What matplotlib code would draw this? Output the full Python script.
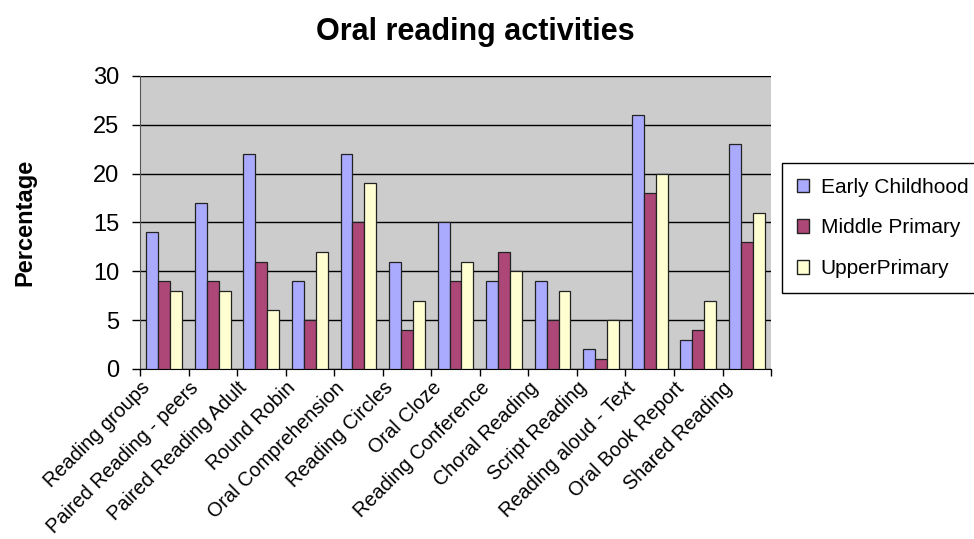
import numpy as np
import matplotlib
matplotlib.use("Agg")
import matplotlib.pyplot as plt
from matplotlib.patches import Patch
from matplotlib.transforms import ScaledTranslation

plt.rcParams['font.family'] = ['Liberation Sans', 'DejaVu Sans']

categories = ["Reading groups", "Paired Reading - peers", "Paired Reading Adult",
              "Round Robin", "Oral Comprehension", "Reading Circles", "Oral Cloze",
              "Reading Conference", "Choral Reading", "Script Reading",
              "Reading aloud - Text", "Oral Book Report", "Shared Reading"]
early_childhood = [14, 17, 22, 9, 22, 11, 15, 9, 9, 2, 26, 3, 23]
middle_primary = [9, 9, 11, 5, 15, 4, 9, 12, 5, 1, 18, 4, 13]
upper_primary = [8, 8, 6, 12, 19, 7, 11, 10, 8, 5, 20, 7, 16]
series_names = ["Early Childhood", "Middle Primary", "UpperPrimary"]
colors = ["#AAAAFF", "#AD4777", "#FFFFD2"]
y_ticks = [0, 5, 10, 15, 20, 25, 30]

fig = plt.figure(figsize=(9.74, 5.39), dpi=100)
ax = fig.add_axes([0.1437, 0.3154, 0.648, 0.5436])
ax.set_facecolor("#CCCCCC")

x = np.arange(len(categories))
w = 0.245
for i, (vals, c) in enumerate(zip([early_childhood, middle_primary, upper_primary], colors)):
    ax.bar(x + (i - 1) * w, vals, width=w, color=c, edgecolor="#222222",
           linewidth=0.9, zorder=3)

ax.set_xlim(-0.5, len(categories) - 0.5)
ax.set_ylim(0, 30)
ax.set_yticks(y_ticks)
ax.yaxis.grid(True, color="black", linewidth=1.0, zorder=1)
ax.set_axisbelow(True)

ax.set_xticks(x)
ax.set_xticklabels(categories, rotation=45, ha="right", rotation_mode="anchor",
                   fontsize=14.3)
ax.tick_params(axis="x", which="major", length=0, pad=6)
ax.set_xticks(np.arange(-0.5, len(categories), 1.0), minor=True)
ax.tick_params(axis="x", which="minor", length=5, width=1, color="black")
ax.tick_params(axis="y", length=6, width=1, labelsize=17, pad=9)

# nudge the slanted category labels to the left
shift = ScaledTranslation(-24 / 100, -1 / 100, fig.dpi_scale_trans)
for lab in ax.get_xticklabels():
    lab.set_transform(lab.get_transform() + shift)

for side in ["top", "right"]:
    ax.spines[side].set_visible(False)
ax.spines["left"].set_color("#555555")
ax.spines["bottom"].set_color("black")

fig.text(0.4875, 0.94, "Oral reading activities", ha="center", va="center",
         fontsize=22, fontweight="bold")
fig.text(0.026, 0.588, "Percentage", ha="center", va="center", rotation=90,
         fontsize=17, fontweight="bold")

handles = [Patch(facecolor=c, edgecolor="#222222", label=n)
           for c, n in zip(colors, series_names)]
leg = fig.legend(handles=handles, loc="upper left", bbox_to_anchor=(0.803, 0.6976),
                 borderaxespad=0, fontsize=15, frameon=True, fancybox=False,
                 framealpha=1, edgecolor="black", handlelength=0.6,
                 handleheight=0.6, handletextpad=0.55, labelspacing=1.05,
                 borderpad=0.7)
leg.get_frame().set_linewidth(1.0)

fig.savefig("out.png", dpi=100)
